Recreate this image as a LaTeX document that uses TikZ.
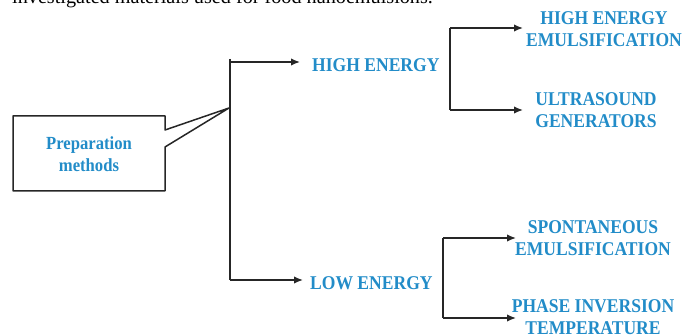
\documentclass[tikz,border=0pt]{standalone}
\usepackage{fontspec}
\setmainfont{Liberation Serif}
\newfontfamily\lblfont{Liberation Serif}[FakeStretch=0.9]
\usetikzlibrary{arrows.meta}
\definecolor{lblblue}{RGB}{34,140,200}
\tikzset{
  lbl/.style={text=lblblue, font=\lblfont\bfseries\fontsize{19.5}{22}\selectfont, align=center, inner sep=0pt},
  plbl/.style={text=lblblue, font=\lblfont\bfseries\fontsize{18.5}{22}\selectfont, align=center, inner sep=0pt},
  conn/.style={line width=1.5pt, draw=black!85},
  arr/.style={conn, -{Latex[length=9pt,width=7.5pt]}},
}
\begin{document}
\begin{tikzpicture}[x=1pt,y=-1pt]
\useasboundingbox (0,0) rectangle (686,336);
\clip (0,0) rectangle (686,336);
% cut-off line of body text at the top
\node[anchor=base west, inner sep=0pt, font=\fontsize{20.2}{24}\selectfont] (top) at (12,3.5) {investigated materials used for food nanoemulsions.};
% callout box
\coordinate (tip) at (229,108);
\draw[conn, line join=round] (13,116) -- (165,116) -- (165,130) -- (tip) -- (165,147) -- (165,191) -- (13,191) -- cycle;
\node[plbl] (prep) at (89,154) {Preparation\\methods};
% trunk
\coordinate (t1) at (230,62);
\coordinate (t2) at (230,280);
\draw[conn] (230,59) -- (t2);
% level 1 labels
\node[lbl, anchor=west] (he) at (312,65) {HIGH ENERGY};
\node[lbl, anchor=west] (le) at (310,283) {LOW ENERGY};
\coordinate (heA) at (300,62);
\coordinate (leA) at (303,280);
\draw[arr] (t1) -- (heA);
\draw[arr] (t2) -- (leA);
% bracket high energy
\coordinate (b1t) at (450,28);
\coordinate (b1b) at (450,110);
\draw[conn] (b1t) -- (b1b);
\coordinate (b1tA) at (523,28);
\coordinate (b1bA) at (523,110);
\draw[arr] (b1t) -- (b1tA);
\draw[arr] (b1b) -- (b1bA);
\node[lbl] (hee) at (604,29) {HIGH ENERGY\\EMULSIFICATION};
\node[lbl] (ug) at (596,110) {ULTRASOUND\\GENERATORS};
% bracket low energy
\coordinate (b2t) at (443,238);
\coordinate (b2b) at (443,318);
\draw[conn] (b2t) -- (b2b);
\coordinate (b2tA) at (516,238);
\coordinate (b2bA) at (516,318);
\draw[arr] (b2t) -- (b2tA);
\draw[arr] (b2b) -- (b2bA);
\node[lbl] (se) at (593,238) {SPONTANEOUS\\EMULSIFICATION};
\node[lbl] (pit) at (593,317) {PHASE INVERSION\\TEMPERATURE};
\end{tikzpicture}
\end{document}
